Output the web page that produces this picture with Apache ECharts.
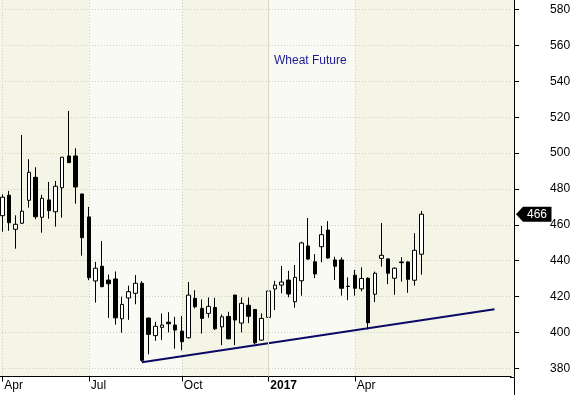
<!DOCTYPE html>
<html><head><meta charset="utf-8">
<script src="https://cdn.jsdelivr.net/npm/echarts@6/dist/echarts.min.js"></script>
<style>html,body{margin:0;padding:0;background:#fff}#c{width:575px;height:395px}</style>
</head><body><div id="c"></div>
<script>
// Weekly categories (Fridays)
const categories = [
'2016-04-01','2016-04-08','2016-04-15','2016-04-22','2016-04-29',
'2016-05-06','2016-05-13','2016-05-20','2016-05-27',
'2016-06-03','2016-06-10','2016-06-17','2016-06-24',
'2016-07-01','2016-07-08','2016-07-15','2016-07-22','2016-07-29',
'2016-08-05','2016-08-12','2016-08-19','2016-08-26',
'2016-09-02','2016-09-09','2016-09-16','2016-09-23','2016-09-30',
'2016-10-07','2016-10-14','2016-10-21','2016-10-28',
'2016-11-04','2016-11-11','2016-11-18','2016-11-25',
'2016-12-02','2016-12-09','2016-12-16','2016-12-23','2016-12-30',
'2017-01-06','2017-01-13','2017-01-20','2017-01-27',
'2017-02-03','2017-02-10','2017-02-17','2017-02-24',
'2017-03-03','2017-03-10','2017-03-17','2017-03-24','2017-03-31',
'2017-04-07','2017-04-14','2017-04-21','2017-04-28',
'2017-05-05','2017-05-12','2017-05-19','2017-05-26',
'2017-06-02','2017-06-09','2017-06-16','2017-06-23','2017-06-30',
'2017-07-07','2017-07-14','2017-07-21','2017-07-28',
'2017-08-04','2017-08-11','2017-08-18','2017-08-25',
'2017-09-01','2017-09-08','2017-09-15'
];
const openVals = [465.1,476.5,457.5,460.9,473.7,486.5,464.2,473.9,467.3,480.7,498.4,498.4,477.2,464.4,428.7,436.9,429.2,429.8,407.6,419.2,421.8,427.4,408.0,398.2,402.8,405.7,404.1,400.7,397.0,419.0,413.4,410.6,413.9,403.1,408.9,420.8,405.2,415.1,412.8,395.7,408.4,424.2,426.4,429.2,417.1,428.8,448.2,439.4,447.8,457.1,440.4,440.4,425.8,431.9,424.3,430.2,421.3,441.3,441.0,430.2,439.3,439.3,429.1,443.6];
const closeVals = [475.4,461.2,460.3,467.6,489.3,464.5,474.8,467.9,481.5,497.7,494.7,481.1,452.8,430.5,435.8,425.5,427.1,408.1,415.6,422.7,427.4,384.4,398.9,403.4,404.1,404.8,401.3,394.8,420.8,414.3,407.8,414.5,402.0,408.7,396.4,406.9,416.2,409.0,394.2,407.8,423.1,426.4,428.1,421.4,430.7,449.9,440.9,432.6,454.5,441.5,436.9,424.6,425.6,424.6,430.1,405.4,433.0,443.0,433.0,435.8,438.9,429.6,445.8,465.9];
const lowVals = [456.2,456.7,446.7,460.5,469.6,463.1,455.6,463.4,459.0,464.0,494.5,471.8,442.8,429.1,416.6,425.2,408.1,404.3,399.8,407.0,415.7,383.6,387.8,395.3,395.7,400.0,390.9,390.0,396.6,413.4,399.4,408.2,401.3,392.9,396.2,392.9,400.0,405.2,393.5,395.5,405.4,412.5,421.8,419.6,413.8,420.5,440.5,430.3,439.1,441.2,429.2,420.5,418.0,420.5,422.9,401.7,416.9,436.7,426.9,421.0,428.3,422.1,426.1,432.2];
const highVals = [477.0,478.9,465.3,510.1,496.6,492.1,476.7,483.9,484.5,497.9,523.5,502.7,477.4,470.0,439.3,451.0,432.3,434.0,419.9,426.1,432.0,428.6,408.2,405.9,410.6,411.3,408.7,409.1,428.1,423.5,418.4,419.5,419.3,410.0,411.5,421.0,419.5,419.5,413.0,410.6,427.4,428.8,437.0,434.4,437.6,450.6,463.8,443.7,459.4,462.1,442.2,441.9,430.7,434.9,436.3,430.7,433.9,461.0,441.2,436.3,441.9,439.5,455.3,467.7];
const tickDates = ['2016-04-01','2016-07-01','2016-10-07','2017-01-06','2017-04-07'];
const tickTexts = ['Apr','Jul','Oct','2017','Apr'];
const yTicks = [380,400,420,440,460,480,500,520,540,560,580];
const trendDates = ['2016-08-26','2017-09-01'];
const trendValues = [383.3,412.9];
const yearLineDate = '2017-01-06';
const titleText = 'Wheat Future';

const FONT = '"Liberation Sans", Arial, sans-serif';
const beige = '#f4f4e7', light = '#fafaf5', gridC = '#d0d0b8';
const tickIdx = tickDates.map(d => categories.indexOf(d));
const isTick = i => tickIdx.indexOf(i) >= 0;
const candleData = openVals.map((o, i) => [o, closeVals[i], lowVals[i], highVals[i]]);

const chart = echarts.init(document.getElementById('c'), null, {renderer: 'canvas'});
chart.setOption({
  animation: false,
  backgroundColor: '#fff',
  title: {text: titleText, left: 274, top: 55, padding: 0,
    textStyle: {color: '#1b1b8f', fontSize: 12, fontWeight: 'normal', fontFamily: FONT}},
  grid: {left: -1.03, right: 63.9, top: 0, bottom: 18.5, show: true, backgroundColor: beige,
    borderWidth: 0, containLabel: false, outerBoundsMode: 'none'},
  xAxis: {type: 'category', data: categories, boundaryGap: true, z: 0,
    axisLine: {show: true, lineStyle: {color: '#000', width: 1}},
    axisTick: {show: true, alignWithLabel: true, interval: i => isTick(i), length: 5, lineStyle: {color: '#000'}},
    axisLabel: {interval: i => isTick(i), hideOverlap: false,
      formatter: (v) => { const t = tickTexts[tickDates.indexOf(v)] || ''; return t === '2017' ? '{b|' + t + '}' : t; },
      align: 'left', margin: 3, padding: [0, 0, 0, 2], color: '#000', fontSize: 12, fontFamily: FONT,
      rich: {b: {fontWeight: 'bold', fontSize: 12, fontFamily: FONT, color: '#000'}}},
    splitLine: {show: true, alignWithLabel: true, interval: i => isTick(i), lineStyle: {color: gridC, type: [1, 2]}},
    splitArea: {show: true, alignWithLabel: true, interval: i => isTick(i), areaStyle: {color: [beige, light]}}
  },
  yAxis: {type: 'value', position: 'right', offset: 3, min: 375.4, max: 585.4, splitNumber: 10, z: 1,
    axisLine: {show: true, lineStyle: {color: '#000', width: 1}},
    axisTick: {show: true, length: 5, lineStyle: {color: '#000'}, customValues: yTicks},
    axisLabel: {customValues: yTicks, margin: 36, align: 'left', color: '#000', fontSize: 12, fontFamily: FONT,
      showMinLabel: true, showMaxLabel: true},
    splitLine: {show: true, lineStyle: {color: gridC, type: [1, 2]}}
  },
  series: [
    {type: 'line', data: [], z: 1, silent: true,
      markLine: {silent: true, symbol: ['none', 'none'], label: {show: false},
        lineStyle: {color: '#d8d8c6', type: 'solid', width: 1}, data: [{xAxis: yearLineDate}]}},
    {type: 'candlestick', data: candleData, barWidth: 4, z: 2,
      itemStyle: {color: '#fff', color0: '#000', borderColor: '#000', borderColor0: '#000', borderWidth: 1}},
    {type: 'line', data: trendDates.map((d, i) => [d, trendValues[i]]), symbol: 'none', z: 3, silent: true,
      lineStyle: {color: '#0a0a66', width: 2}}
  ]
});

const rect = chart.getModel().getComponent('grid', 0).coordinateSystem.getRect();
const gx = rect.x + rect.width;
const axisX = Math.round(gx + 3) + 0.5;
const bottomY = Math.round(rect.y + rect.height) + 0.5;
const lastClose = closeVals[closeVals.length - 1];
const py = chart.convertToPixel({yAxisIndex: 0}, lastClose);
chart.setOption({graphic: [
  {type: 'rect', z: -10, silent: true, shape: {x: gx, y: rect.y, width: axisX - gx, height: rect.height}, style: {fill: beige}},
  {type: 'line', silent: true, shape: {x1: gx - 1, y1: bottomY, x2: axisX, y2: bottomY}, style: {stroke: '#000', lineWidth: 1}},
  {type: 'line', silent: true, shape: {x1: axisX, y1: bottomY, x2: axisX, y2: 395}, style: {stroke: '#000', lineWidth: 1}},
  {type: 'polygon', silent: true, z: 10, shape: {points: [[axisX + 1.5, py], [axisX + 8.5, py - 7.5], [axisX + 37, py - 7.5], [axisX + 37, py + 7.5], [axisX + 8.5, py + 7.5]]}, style: {fill: '#000'}},
  {type: 'text', silent: true, z: 11, x: axisX + 12.5, y: py + 0.5, style: {text: String(Math.round(lastClose)), fill: '#fff', font: '12px "Liberation Sans", Arial, sans-serif', verticalAlign: 'middle', align: 'left'}}
]});
</script></body></html>
